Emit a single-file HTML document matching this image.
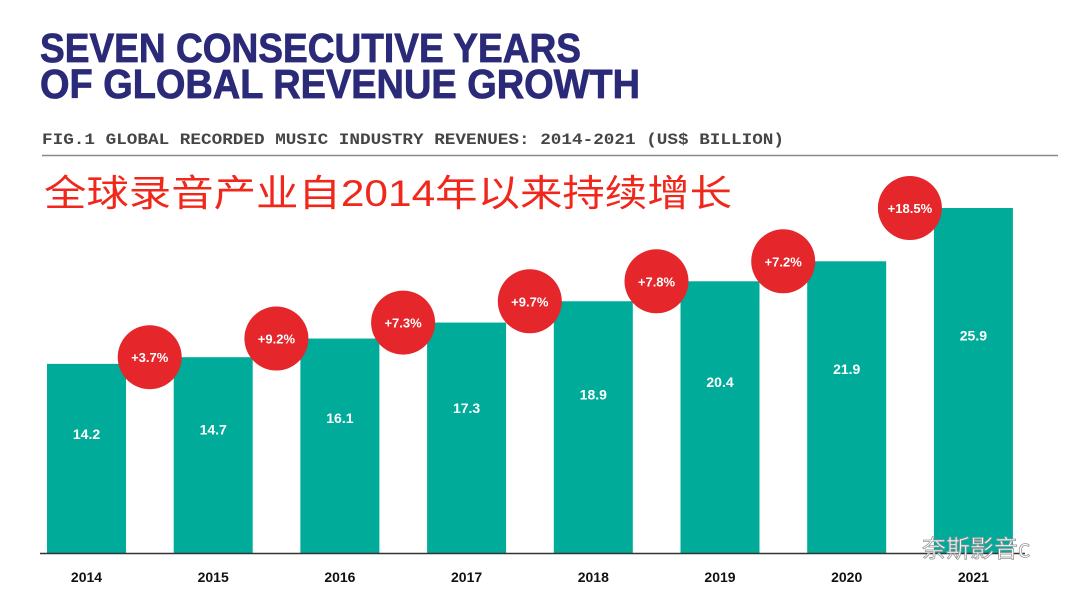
<!DOCTYPE html>
<html><head><meta charset="utf-8"><style>
html,body{margin:0;padding:0;background:#fff;}
svg{display:block;}
</style></head><body>
<svg id="chart" width="1080" height="599" viewBox="0 0 1080 599" xmlns="http://www.w3.org/2000/svg">
<text x="40" y="62" font-family="Liberation Sans, sans-serif" font-weight="bold" font-size="41" fill="#2b2a78" stroke="#2b2a78" stroke-width="0.8" textLength="541" lengthAdjust="spacingAndGlyphs">SEVEN CONSECUTIVE YEARS</text>
<text x="40" y="98" font-family="Liberation Sans, sans-serif" font-weight="bold" font-size="41" fill="#2b2a78" stroke="#2b2a78" stroke-width="0.8" textLength="600" lengthAdjust="spacingAndGlyphs">OF GLOBAL REVENUE GROWTH</text>
<text x="42" y="144" font-family="Liberation Mono, monospace" font-weight="bold" font-size="16" fill="#454545" textLength="742" lengthAdjust="spacingAndGlyphs">FIG.1 GLOBAL RECORDED MUSIC INDUSTRY REVENUES: 2014-2021 (US$ BILLION)</text>
<line x1="42" y1="155.5" x2="1058" y2="155.5" stroke="#888" stroke-width="1.5"/>
<text x="44" y="206" font-family="Liberation Sans, 'Noto Sans CJK SC', sans-serif" font-size="37" fill="#f0281c" textLength="688" lengthAdjust="spacingAndGlyphs">全球录音产业自2014年以来持续增长</text>
<g id="bars"></g>
<line x1="40" y1="553.5" x2="1025" y2="553.5" stroke="#333" stroke-width="1.5"/>
<g id="bubbles"></g>
<g id="labels"></g>
<text x="922" y="557" font-family="'Noto Sans CJK SC', sans-serif" font-size="24" fill="#fff" stroke="#999" stroke-width="0.8">奈斯影音c</text>
</svg>
<script>
const years = ['2014','2015','2016','2017','2018','2019','2020','2021'];
const revenues = [14.2,14.7,16.1,17.3,18.9,20.4,21.9,25.9];
const valueLabels = ['14.2','14.7','16.1','17.3','18.9','20.4','21.9','25.9'];
const growthLabels = ['','+3.7%','+9.2%','+7.3%','+9.7%','+7.8%','+7.2%','+18.5%'];

const NS='http://www.w3.org/2000/svg';
const baseY=553, pxPer=13.32, x0=47, step=126.7, bw=79;
const xPos=i=>x0+i*step;
const yPos=v=>baseY-v*pxPer;
function mk(tag,attrs,parent){const e=document.createElementNS(NS,tag);for(const k in attrs)e.setAttribute(k,attrs[k]);parent.appendChild(e);return e;}
const gB=document.getElementById('bars'),gC=document.getElementById('bubbles'),gL=document.getElementById('labels');
revenues.forEach((v,i)=>{
  const top=yPos(v);
  const r=mk('rect',{x:xPos(i),y:top,width:bw,height:baseY-top,fill:'#00ab9a'},gB);
  
  
  const t=mk('text',{x:xPos(i)+bw/2,y:top+(baseY-top)*0.37+5,'text-anchor':'middle','font-family':'Liberation Sans, sans-serif','font-weight':'bold','font-size':'14',fill:'#fff'},gL);
  t.textContent=valueLabels[i];
  
  
  const yl=mk('text',{x:xPos(i)+bw/2,y:582,'text-anchor':'middle','font-family':'Liberation Sans, sans-serif','font-weight':'bold','font-size':'14',fill:'#111'},gL);
  yl.textContent=years[i];
  
  
  if(growthLabels[i]){
    const cx=xPos(i)-24;
    const c=mk('circle',{cx:cx,cy:top,r:32,fill:'#e5262b'},gC);
    
    
    const gt=mk('text',{x:cx,y:top+5,'text-anchor':'middle','font-family':'Liberation Sans, sans-serif','font-weight':'bold','font-size':'13',fill:'#fff'},gC);
    gt.textContent=growthLabels[i];
    
    
  }
});
</script>
</body></html>
